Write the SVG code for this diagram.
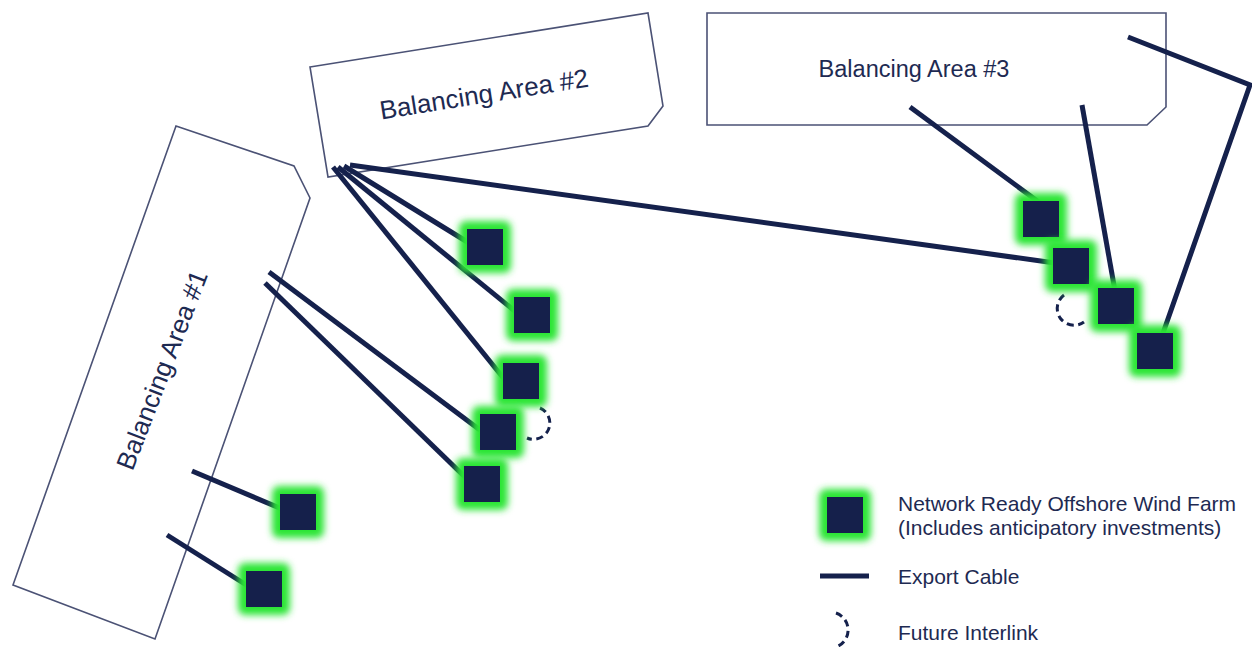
<svg xmlns="http://www.w3.org/2000/svg" width="1252" height="647" viewBox="0 0 1252 647">
<style>
.area{fill:#ffffff;stroke:#4b5275;stroke-width:1.6}
.lbl{font-family:"Liberation Sans",Arial,sans-serif;font-size:26px;fill:#1e2a52;text-anchor:middle;dominant-baseline:central}
.leg{font-family:"Liberation Sans",Arial,sans-serif;font-size:21px;fill:#1e2a52}
.cable{stroke:#15214c;stroke-width:5;fill:none;stroke-linecap:butt}
.link{stroke:#15214c;stroke-width:3;fill:none;stroke-dasharray:7 4.5}
.glow{fill:#2ce536;filter:url(#blur)}
.farm{fill:#15204b}
</style>
<defs>
<filter id="blur" x="-50%" y="-50%" width="200%" height="200%"><feGaussianBlur stdDeviation="3.5"/></filter>
<g id="farmShape"><rect class="glow" x="-26" y="-26" width="52" height="52" rx="7"/><rect class="farm" x="-18" y="-18" width="36" height="36"/></g>
</defs>
<rect width="1252" height="647" fill="#ffffff"/>
<g id="area1"><polygon class="area" points="176,126 294,166 310,198 155,639 13,585"/><text class="lbl" transform="translate(162,370) rotate(-69)">Balancing Area #1</text></g>
<g id="area2"><polygon class="area" points="310,67 648,13 663,106 648,126 328,177"/><text class="lbl" transform="translate(484,94) rotate(-9)">Balancing Area #2</text></g>
<g id="area3"><polygon class="area" points="707,13 1166,13 1166,107 1147,125 707,125"/><text class="lbl" x="914" y="69" style="font-size:23.5px">Balancing Area #3</text></g>
<g id="connectors">
<line class="cable" x1="269" y1="272" x2="480" y2="430"/>
<line class="cable" x1="265" y1="283" x2="466" y2="478"/>
<line class="cable" x1="192" y1="471" x2="282" y2="509"/>
<line class="cable" x1="167" y1="535" x2="248" y2="586"/>
<line class="cable" x1="333" y1="167" x2="505" y2="380"/>
<line class="cable" x1="338" y1="167" x2="516" y2="312"/>
<line class="cable" x1="344" y1="166" x2="469" y2="243"/>
<line class="cable" x1="350" y1="165" x2="1055" y2="263"/>
<line class="cable" x1="910" y1="107" x2="1040" y2="203"/>
<line class="cable" x1="1082" y1="105" x2="1115" y2="291"/>
<polyline class="cable" points="1128,37 1250,85 1162,336"/>
<path class="link" d="M 540 408 A 15 15 0 0 1 527 438"/>
<path class="link" d="M 1064 295 A 15 15 0 0 0 1084 322"/>
</g>
<g id="farm1"><use href="#farmShape" x="485" y="247"/></g>
<g id="farm2"><use href="#farmShape" x="532" y="315"/></g>
<g id="farm3"><use href="#farmShape" x="521" y="381"/></g>
<g id="farm4"><use href="#farmShape" x="498" y="432"/></g>
<g id="farm5"><use href="#farmShape" x="482" y="484"/></g>
<g id="farm6"><use href="#farmShape" x="298" y="512"/></g>
<g id="farm7"><use href="#farmShape" x="264" y="589"/></g>
<g id="farm8"><use href="#farmShape" x="1041" y="219"/></g>
<g id="farm9"><use href="#farmShape" x="1071" y="266"/></g>
<g id="farm10"><use href="#farmShape" x="1116" y="306"/></g>
<g id="farm11"><use href="#farmShape" x="1155" y="351"/></g>
<g id="legend">
<use href="#farmShape" x="845" y="515"/>
<text class="leg" x="898" y="511">Network Ready Offshore Wind Farm</text>
<text class="leg" x="898" y="535">(Includes anticipatory investments)</text>
<line class="cable" x1="820" y1="576" x2="869" y2="576" stroke-width="5.5"/>
<text class="leg" x="898" y="584">Export Cable</text>
<path class="link" d="M 836 613 A 18 18 0 0 1 836 647"/>
<text class="leg" x="898" y="640">Future Interlink</text>
</g>
</svg>
